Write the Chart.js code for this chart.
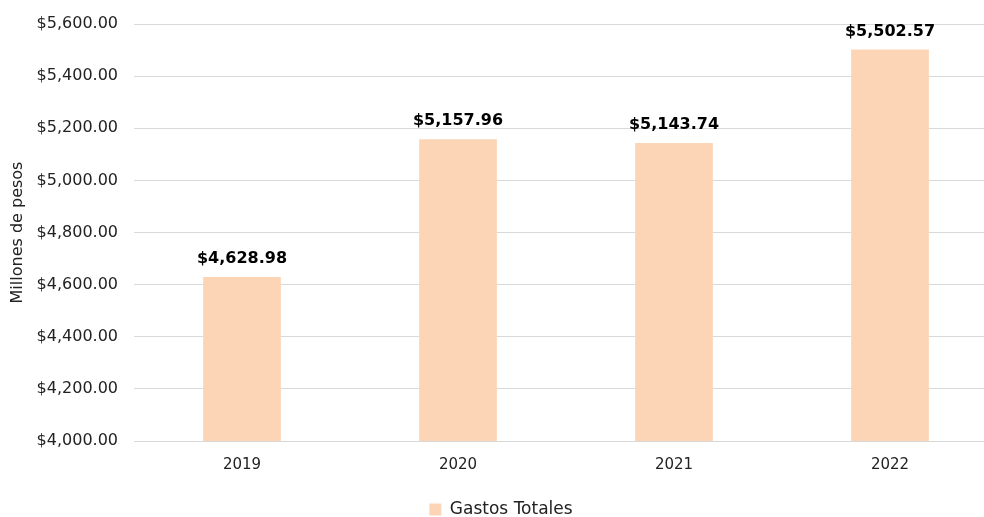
<!DOCTYPE html>
<html>
<head>
<meta charset="utf-8">
<script src="https://cdn.jsdelivr.net/npm/chart.js@4"></script>
<style>
html,body{margin:0;padding:0;background:#fff;overflow:hidden;}
#wrap{width:984px;height:517px;overflow:hidden;}
</style>
</head>
<body>
<div id="wrap"><canvas id="c" width="1000" height="517"></canvas></div>
<script>
const categories = ["2019", "2020", "2021", "2022"];
const gastosTotales = [4628.98, 5157.96, 5143.74, 5502.57];
const seriesName = "Gastos Totales";
const yTitle = "Millones de pesos";
const yMin = 4000, yMax = 5600, yStep = 200;

const fmt = v => "$" + v.toLocaleString("en-US", {minimumFractionDigits: 2, maximumFractionDigits: 2});
const FONT = "'DejaVu Sans', sans-serif";

const labelPlugin = {
  id: "labels",
  afterDatasetsDraw(chart) {
    const ctx = chart.ctx;
    const meta = chart.getDatasetMeta(0);
    ctx.save();
    ctx.font = "bold 16px " + FONT;
    ctx.fillStyle = "#000";
    ctx.textAlign = "center";
    ctx.textBaseline = "bottom";
    meta.data.forEach((bar, i) => {
      ctx.fillText(fmt(gastosTotales[i]), bar.x, bar.y - 10);
    });
    ctx.restore();
  }
};

new Chart(document.getElementById("c"), {
  type: "bar",
  data: {
    labels: categories,
    datasets: [{
      label: seriesName,
      data: gastosTotales,
      backgroundColor: "#FBD5B5",
      borderWidth: 0,
      categoryPercentage: 1.0,
      barPercentage: 0.36
    }]
  },
  options: {
    responsive: false,
    animation: false,
    layout: {padding: {left: 4, right: 2, top: 3, bottom: -11}},
    plugins: {
      legend: {
        position: "bottom",
        labels: {
          boxWidth: 12, boxHeight: 12, padding: 10,
          color: "#222",
          font: {family: FONT, size: 17}
        }
      },
      tooltip: {enabled: false}
    },
    scales: {
      x: {
        grid: {display: false},
        border: {display: false},
        ticks: {color: "#222", font: {family: FONT, size: 15}, padding: 7},
        afterFit: s => { s.height = 50; }
      },
      y: {
        min: yMin, max: yMax,
        ticks: {
          stepSize: yStep,
          color: "#222",
          padding: 16,
          font: {family: FONT, size: 16, lineHeight: 1.0},
          callback: v => fmt(v)
        },
        grid: {color: "#d9d9d9", lineWidth: 1, drawTicks: false},
        border: {display: false},
        title: {display: true, text: yTitle, color: "#222", font: {family: FONT, size: 16}, padding: {bottom: 2}},
        afterFit: s => { s.width = 130; }
      }
    }
  },
  plugins: [labelPlugin]
});
</script>
</body>
</html>
